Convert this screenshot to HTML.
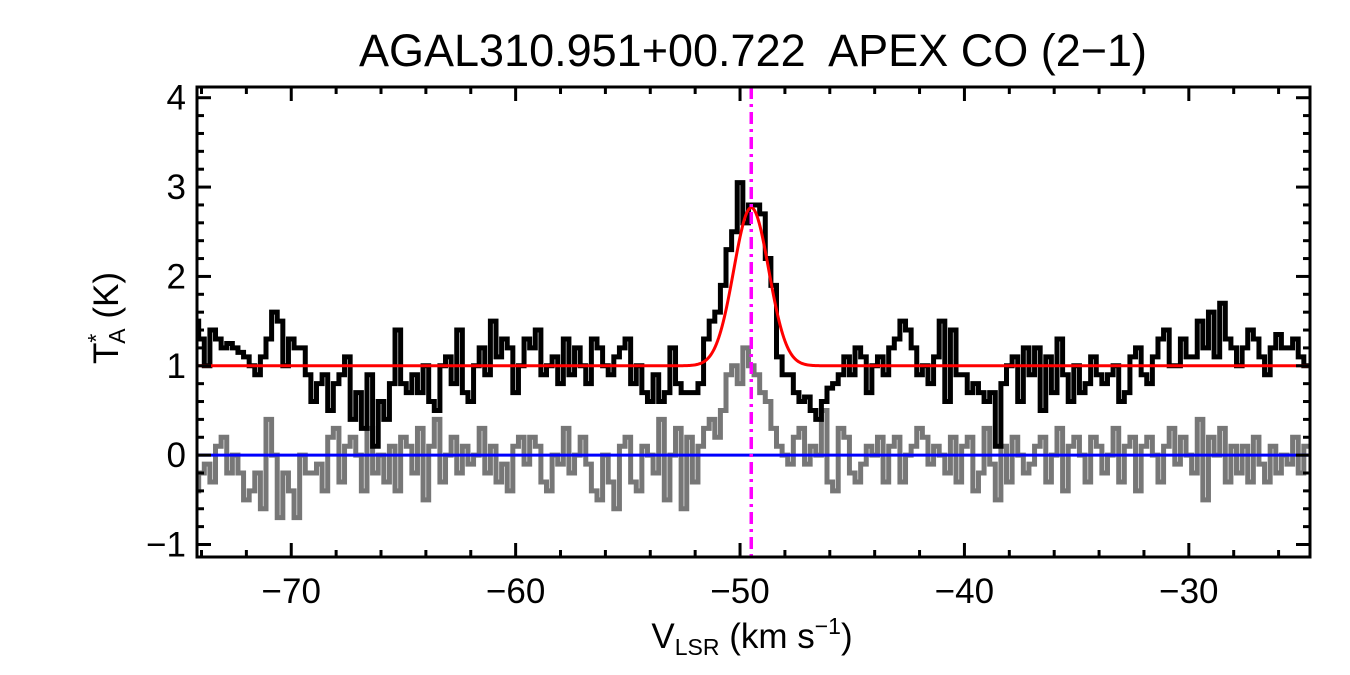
<!DOCTYPE html>
<html><head><meta charset="utf-8"><style>
body{margin:0;background:#fff}
svg{display:block;font-family:"Liberation Sans",sans-serif}
</style></head><body>
<svg id="c" width="1350" height="675"></svg>
<script>
const v0=-74.5, dv=0.25;
const blackVals=[1.2,1.5,1.3,1.0,1.4,1.3,1.2,1.25,1.2,1.15,
1.1,1.0,0.9,1.1,1.3,1.6,1.5,1.0,1.3,1.2,
1.2,0.9,0.6,0.8,0.9,0.5,0.8,0.9,1.1,0.4,
0.7,0.3,0.9,0.1,0.6,0.4,0.8,1.4,0.8,0.7,
0.9,0.7,1.0,0.6,0.5,1.0,1.1,0.8,1.4,0.7,
0.6,1.0,1.2,0.9,1.5,1.1,1.3,1.2,0.7,1.0,
1.3,1.2,1.4,0.9,1.0,1.1,0.8,1.3,0.9,1.2,
1.0,0.8,1.3,1.2,1.0,0.9,1.1,1.2,1.3,0.8,
1.0,0.7,0.6,0.9,0.6,0.7,1.2,0.8,0.7,0.7,
0.7,0.8,1.3,1.5,1.6,1.9,2.3,2.5,3.05,2.6,
2.8,2.8,2.7,2.2,1.9,1.1,0.9,0.9,0.7,0.6,
0.65,0.5,0.4,0.6,0.75,0.8,0.9,1.1,0.9,1.2,
1.1,0.7,1.0,1.1,0.9,1.2,1.3,1.5,1.4,1.2,
0.9,1.0,0.8,1.1,1.5,0.6,1.4,0.9,0.9,0.7,
0.8,0.7,0.6,0.7,0.1,0.8,1.0,1.1,0.6,1.2,
0.9,1.2,0.5,1.1,0.7,1.3,0.9,0.6,1.0,0.7,
0.8,1.1,0.9,0.8,0.9,1.0,0.6,0.7,1.1,1.2,
0.9,0.8,1.1,1.3,1.4,1.0,1.0,1.3,1.1,1.1,
1.5,1.2,1.6,1.1,1.7,1.3,1.2,1.0,1.2,1.4,
1.3,1.1,0.9,1.2,1.35,1.2,1.2,1.3,1.1,1.0];
const greyVals=[0.3,-0.4,-0.2,-0.1,-0.3,0.1,0.2,-0.2,0.0,-0.2,
-0.5,-0.4,-0.2,-0.6,0.4,0.0,-0.7,-0.2,-0.4,-0.7,
0.0,-0.2,-0.2,-0.1,-0.4,0.2,0.3,-0.3,0.1,0.2,
0.0,-0.4,0.3,-0.2,0.0,-0.3,0.1,-0.4,0.2,0.1,
-0.2,0.3,-0.5,0.1,0.4,-0.3,0.0,0.2,-0.2,0.1,
-0.1,0.0,0.3,-0.2,0.1,-0.3,-0.1,-0.4,0.1,0.2,
-0.1,0.2,0.1,-0.3,-0.4,0.0,-0.1,0.3,-0.2,0.0,
0.2,-0.1,-0.4,-0.5,0.0,-0.3,-0.6,0.1,0.2,-0.3,
-0.4,0.1,0.0,-0.2,0.4,-0.5,0.0,0.3,-0.6,0.2,
-0.3,0.1,0.3,0.4,0.2,0.5,0.9,1.0,0.8,1.2,
1.0,0.9,0.7,0.6,0.3,0.1,0.0,-0.1,0.2,0.3,
-0.1,0.1,0.0,0.5,-0.3,-0.4,0.3,0.2,-0.2,-0.3,
-0.1,0.1,0.0,0.2,-0.3,0.1,0.2,-0.3,0.0,0.1,
0.3,0.2,-0.1,0.1,0.0,-0.2,0.2,-0.3,0.1,0.2,
-0.4,-0.2,0.3,-0.1,-0.5,0.1,-0.3,0.2,0.0,-0.2,
-0.1,0.1,0.2,-0.3,0.0,0.3,-0.4,0.1,0.2,0.0,
-0.3,0.2,0.1,-0.2,0.0,0.3,-0.3,0.1,0.2,-0.4,
0.1,0.2,0.0,-0.3,0.1,0.3,-0.1,0.2,0.0,-0.2,
0.4,-0.5,0.2,0.0,0.3,-0.3,0.1,-0.2,0.1,-0.3,
0.2,-0.1,-0.3,0.1,-0.2,0.0,-0.1,0.2,-0.2,0.1];
const fitBase=1.0, fitAmp=1.77, fitCenter=-49.5, fitSigma=0.78;
const xTicks=[-70,-60,-50,-40,-30];
const yTicks=[-1,0,1,2,3,4];

const L=197,R=1310,T=87,B=557, XMIN=-74.2, XMAX=-24.6, YMIN=-1.14, YMAX=4.12;
const X=v=>L+(v-XMIN)/(XMAX-XMIN)*(R-L);
const Y=t=>B-(t-YMIN)/(YMAX-YMIN)*(B-T);
const svg=document.getElementById('c');
const NS='http://www.w3.org/2000/svg';
function el(tag,attrs,parent){const e=document.createElementNS(NS,tag);for(const k in attrs)e.setAttribute(k,attrs[k]);(parent||svg).appendChild(e);return e;}
const clip=el('clipPath',{id:'pc'});el('rect',{x:L,y:T,width:R-L,height:B-T},clip);
const g=el('g',{'clip-path':'url(#pc)'});
function stepPath(vals){let d='';vals.forEach((t,i)=>{const a=X(v0+i*dv-dv/2),b=X(v0+i*dv+dv/2),y=Y(t);d+=(i?'L':'M')+a+','+y+'L'+b+','+y;});return d;}
let p=el('path',{d:stepPath(greyVals),fill:'none',stroke:'#777','stroke-width':5},g);


p=el('path',{d:stepPath(blackVals),fill:'none',stroke:'#000','stroke-width':5},g);


p=el('line',{x1:L,x2:R,y1:Y(0),y2:Y(0),stroke:'#0000ff','stroke-width':3},g);


let fd='';for(let v=XMIN;v<=XMAX;v+=0.05){const t=fitBase+fitAmp*Math.exp(-0.5*((v-fitCenter)/fitSigma)**2);fd+=(fd?'L':'M')+X(v)+','+Y(t);}
p=el('path',{d:fd,fill:'none',stroke:'#ff0000','stroke-width':3},g);


p=el('line',{x1:X(fitCenter),x2:X(fitCenter),y1:T,y2:B,stroke:'#ff00ff','stroke-width':3.5,'stroke-dasharray':'12,5,3,5'});


p=el('rect',{x:L,y:T,width:R-L,height:B-T,fill:'none',stroke:'#000','stroke-width':3});


for(let v=-74;v<=-25;v+=2){const maj=xTicks.includes(v),len=maj?14:7;el('line',{x1:X(v),x2:X(v),y1:B,y2:B-len,stroke:'#000','stroke-width':3});el('line',{x1:X(v),x2:X(v),y1:T,y2:T+len,stroke:'#000','stroke-width':3});}
for(let t=-1;t<=4.01;t+=0.2){const maj=Math.abs(t-Math.round(t))<0.01,len=maj?14:7;el('line',{x1:L,x2:L+len,y1:Y(t),y2:Y(t),stroke:'#000','stroke-width':3});el('line',{x1:R,x2:R-len,y1:Y(t),y2:Y(t),stroke:'#000','stroke-width':3});}
xTicks.forEach(v=>{const t=el('text',{x:X(v),y:603,'font-size':35,'text-anchor':'middle'});t.textContent=v<0?'\u2212'+(-v):v;

});
yTicks.forEach(v=>{const t=el('text',{x:186,y:Y(v)+12,'font-size':35,'text-anchor':'end'});t.textContent=v<0?'\u2212'+(-v):v;

});
</script>
<div style="position:absolute;left:0;top:0;width:1350px;height:675px;pointer-events:none">
<svg width="1350" height="675" style="font-family:'Liberation Sans',sans-serif">
<text x="753" y="66" font-size="45" text-anchor="middle" xml:space="preserve">AGAL310.951+00.722  APEX CO (2−1)</text>
<text x="752" y="648" font-size="35" text-anchor="middle">V<tspan font-size="23" dy="7">LSR</tspan><tspan dy="-7"> (km s</tspan><tspan font-size="23" dy="-14">−1</tspan><tspan dy="14">)</tspan></text>
<text transform="translate(118,318) rotate(-90)" font-size="35" text-anchor="middle">T<tspan font-size="23" dy="-14">*</tspan><tspan font-size="23" dx="-10" dy="21">A</tspan><tspan dy="-7"> (K)</tspan></text>
</svg></div>
</body></html>
